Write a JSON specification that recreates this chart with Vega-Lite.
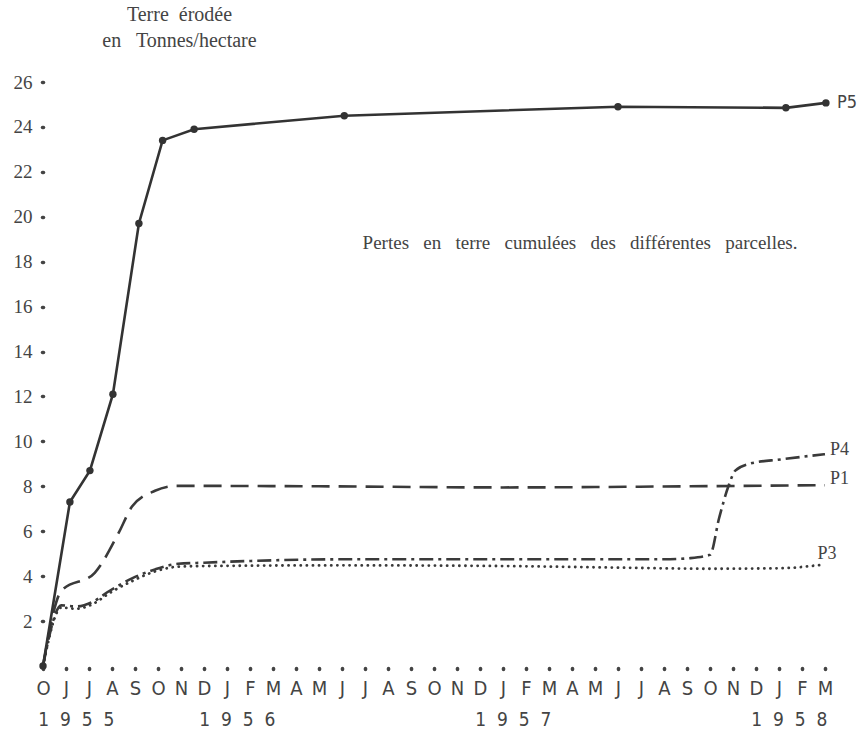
{
  "$schema": "https://vega.github.io/schema/vega-lite/v6.json",
  "width": 782,
  "height": 584,
  "autosize": {"type": "none"},
  "padding": {"left": 43, "top": 82, "right": 40, "bottom": 70},
  "background": "white",
  "config": {"view": {"stroke": null}, "font": "Liberation Serif"},
  "datasets": {
    "series": [
      {"p": "P5", "t": 0, "v": 0}, {"p": "P5", "t": 1.17, "v": 7.3}, {"p": "P5", "t": 2.04, "v": 8.7}, {"p": "P5", "t": 3.04, "v": 12.1},
      {"p": "P5", "t": 4.17, "v": 19.7}, {"p": "P5", "t": 5.2, "v": 23.4}, {"p": "P5", "t": 6.57, "v": 23.9}, {"p": "P5", "t": 13.1, "v": 24.5},
      {"p": "P5", "t": 25, "v": 24.9}, {"p": "P5", "t": 32.3, "v": 24.85}, {"p": "P5", "t": 34.04, "v": 25.07},
      {"p": "P1", "t": 0, "v": 0}, {"p": "P1", "t": 0.8, "v": 3.35}, {"p": "P1", "t": 2.25, "v": 4.15}, {"p": "P1", "t": 3.3, "v": 5.95},
      {"p": "P1", "t": 3.87, "v": 7.1}, {"p": "P1", "t": 4.87, "v": 7.8}, {"p": "P1", "t": 5.8, "v": 8.02}, {"p": "P1", "t": 12, "v": 8.0},
      {"p": "P1", "t": 20, "v": 7.95}, {"p": "P1", "t": 28, "v": 8.0}, {"p": "P1", "t": 34, "v": 8.05},
      {"p": "P3", "t": 0, "v": 0}, {"p": "P3", "t": 0.8, "v": 2.6}, {"p": "P3", "t": 1.45, "v": 2.55}, {"p": "P3", "t": 2.15, "v": 2.75},
      {"p": "P3", "t": 2.9, "v": 3.25}, {"p": "P3", "t": 3.87, "v": 3.78}, {"p": "P3", "t": 4.87, "v": 4.21}, {"p": "P3", "t": 5.87, "v": 4.42},
      {"p": "P3", "t": 7, "v": 4.45}, {"p": "P3", "t": 13, "v": 4.48}, {"p": "P3", "t": 20, "v": 4.45}, {"p": "P3", "t": 25, "v": 4.38},
      {"p": "P3", "t": 29, "v": 4.33}, {"p": "P3", "t": 32, "v": 4.35}, {"p": "P3", "t": 33.8, "v": 4.5},
      {"p": "P4", "t": 0, "v": 0}, {"p": "P4", "t": 0.8, "v": 2.7}, {"p": "P4", "t": 1.45, "v": 2.65}, {"p": "P4", "t": 2.15, "v": 2.85},
      {"p": "P4", "t": 2.9, "v": 3.35}, {"p": "P4", "t": 3.87, "v": 3.9}, {"p": "P4", "t": 4.87, "v": 4.3}, {"p": "P4", "t": 5.87, "v": 4.55},
      {"p": "P4", "t": 7, "v": 4.6}, {"p": "P4", "t": 13, "v": 4.75}, {"p": "P4", "t": 20, "v": 4.75}, {"p": "P4", "t": 27, "v": 4.75},
      {"p": "P4", "t": 28.1, "v": 4.8}, {"p": "P4", "t": 29, "v": 4.95}, {"p": "P4", "t": 29.4, "v": 6.6}, {"p": "P4", "t": 29.8, "v": 8.0},
      {"p": "P4", "t": 30.1, "v": 8.7}, {"p": "P4", "t": 30.7, "v": 9.0}, {"p": "P4", "t": 32.1, "v": 9.2}, {"p": "P4", "t": 34, "v": 9.43}
    ],
    "labels": [
      {"p": "P5", "t": 34.04, "v": 25.07},
      {"p": "P4", "t": 34, "v": 9.43},
      {"p": "P1", "t": 34, "v": 8.05},
      {"p": "P3", "t": 33.8, "v": 4.5}
    ],
    "years": [
      {"t": 1.45, "v": 0, "year": "1\u00a0 9\u00a0 5\u00a0 5"},
      {"t": 8.45, "v": 0, "year": "1\u00a0 9\u00a0 5\u00a0 6"},
      {"t": 20.45, "v": 0, "year": "1\u00a0 9\u00a0 5\u00a0 7"},
      {"t": 32.45, "v": 0, "year": "1\u00a0 9\u00a0 5\u00a0 8"}
    ],
    "notes": [
      {"t": 23.35, "v": 18.83, "note": "Pertes\u00a0\u00a0 en\u00a0\u00a0 terre\u00a0\u00a0 cumulées\u00a0\u00a0 des\u00a0\u00a0 différentes\u00a0\u00a0 parcelles."}
    ]
  },
  "encoding": {
    "x": {
      "field": "t", "type": "quantitative",
      "scale": {"domain": [0, 34], "nice": false, "zero": false},
      "axis": {
        "title": null, "domain": false, "grid": false,
        "values": [0,1,2,3,4,5,6,7,8,9,10,11,12,13,14,15,16,17,18,19,20,21,22,23,24,25,26,27,28,29,30,31,32,33,34],
        "labelExpr": "['O','J','J','A','S','O','N','D','J','F','M','A','M','J','J','A','S','O','N','D','J','F','M','A','M','J','J','A','S','O','N','D','J','F','M'][datum.value]",
        "labelOverlap": false, "labelFlush": false,
        "labelFont": "Liberation Sans Narrow, DejaVu Sans Condensed, sans-serif",
        "labelFontSize": 20, "labelColor": "#444", "labelPadding": 9,
        "offset": 2, "tickSize": 1, "tickWidth": 3.5, "tickCap": "round", "tickColor": "#444"
      }
    },
    "y": {
      "field": "v", "type": "quantitative",
      "scale": {"domain": [0, 26], "nice": false},
      "axis": {
        "title": ["Terre\u00a0 érodée", "en\u00a0\u00a0 Tonnes/hectare"],
        "titleAngle": 0, "titleAlign": "center", "titleBaseline": "alphabetic",
        "titleX": 136, "titleY": -62, "titleLineHeight": 26,
        "titleFont": "Liberation Serif", "titleFontSize": 20, "titleFontWeight": "normal", "titleColor": "#444",
        "domain": false, "grid": false,
        "values": [2,4,6,8,10,12,14,16,18,20,22,24,26],
        "labelFont": "Liberation Serif", "labelFontSize": 19, "labelColor": "#444", "labelPadding": 10,
        "tickSize": 1, "tickWidth": 3.5, "tickCap": "round", "tickColor": "#444"
      }
    }
  },
  "layer": [
    {
      "data": {"name": "series"},
      "transform": [{"filter": "datum.p === 'P1'"}],
      "mark": {"type": "line", "interpolate": "monotone", "color": "#3a3a3a", "strokeWidth": 2.6, "strokeDash": [18, 9]}
    },
    {
      "data": {"name": "series"},
      "transform": [{"filter": "datum.p === 'P3'"}],
      "mark": {"type": "line", "interpolate": "monotone", "color": "#3a3a3a", "strokeWidth": 2.8, "strokeDash": [0.1, 6], "strokeCap": "round"}
    },
    {
      "data": {"name": "series"},
      "transform": [{"filter": "datum.p === 'P4'"}],
      "mark": {"type": "line", "interpolate": "monotone", "color": "#3a3a3a", "strokeWidth": 2.6, "strokeDash": [14, 5, 3, 5]}
    },
    {
      "data": {"name": "series"},
      "transform": [{"filter": "datum.p === 'P5'"}],
      "mark": {"type": "line", "color": "#333", "strokeWidth": 2.6}
    },
    {
      "data": {"name": "series"},
      "transform": [{"filter": "datum.p === 'P5'"}],
      "mark": {"type": "point", "filled": true, "color": "#333", "size": 55, "opacity": 1}
    },
    {
      "data": {"name": "labels"},
      "transform": [{"filter": "datum.p === 'P5'"}],
      "mark": {"type": "text", "align": "left", "baseline": "middle", "dx": 11, "dy": 0, "fontSize": 18, "color": "#444", "font": "Liberation Sans Narrow, DejaVu Sans Condensed, sans-serif"},
      "encoding": {"text": {"field": "p"}}
    },
    {
      "data": {"name": "labels"},
      "transform": [{"filter": "datum.p === 'P4'"}],
      "mark": {"type": "text", "align": "left", "baseline": "middle", "dx": 5, "dy": -4, "fontSize": 18, "color": "#444"},
      "encoding": {"text": {"field": "p"}}
    },
    {
      "data": {"name": "labels"},
      "transform": [{"filter": "datum.p === 'P1'"}],
      "mark": {"type": "text", "align": "left", "baseline": "middle", "dx": 5, "dy": -6, "fontSize": 18, "color": "#444"},
      "encoding": {"text": {"field": "p"}}
    },
    {
      "data": {"name": "labels"},
      "transform": [{"filter": "datum.p === 'P3'"}],
      "mark": {"type": "text", "align": "left", "baseline": "middle", "dx": -3, "dy": -11, "fontSize": 18, "color": "#444"},
      "encoding": {"text": {"field": "p"}}
    },
    {
      "data": {"name": "notes"},
      "mark": {"type": "text", "align": "center", "baseline": "middle", "fontSize": 19, "color": "#444", "font": "Liberation Serif"},
      "encoding": {"text": {"field": "note"}}
    },
    {
      "data": {"name": "years"},
      "mark": {"type": "text", "align": "center", "baseline": "middle", "dy": 54, "fontSize": 19, "color": "#444", "font": "Liberation Sans Narrow, DejaVu Sans Condensed, sans-serif"},
      "encoding": {"text": {"field": "year"}}
    }
  ]
}
